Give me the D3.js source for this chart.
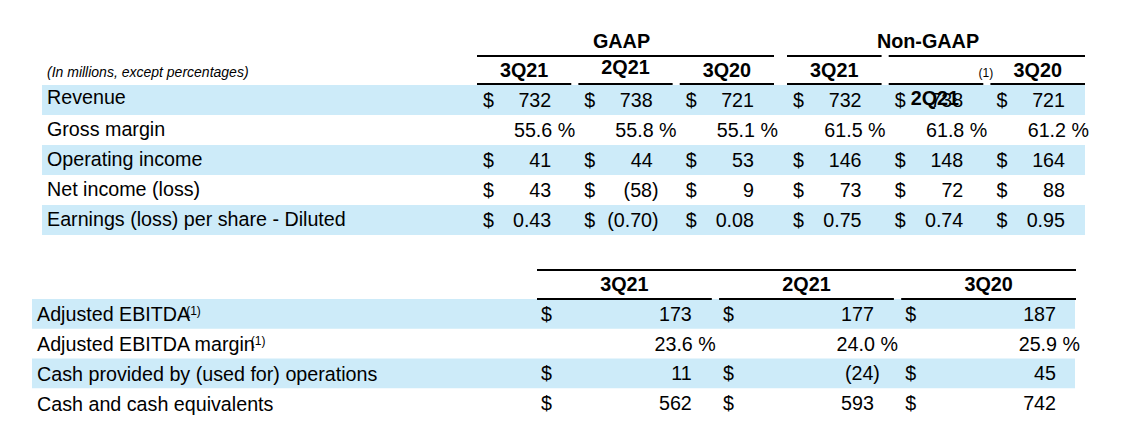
<!DOCTYPE html>
<html><head><meta charset="utf-8">
<script src="https://cdn.jsdelivr.net/npm/d3@7"></script>
<style>
html,body{margin:0;padding:0;background:#fff;}
svg text{font-family:"Liberation Sans",Arial,sans-serif;fill:#000;}
</style></head>
<body><svg id="c" width="1134" height="445"></svg>
<script>
// ---- data ----
const groups = ["GAAP", "Non-GAAP"];
const periods = ["3Q21", "2Q21", "3Q20"];
const topRows = ["Revenue", "Gross margin", "Operating income", "Net income (loss)", "Earnings (loss) per share - Diluted"];
const topFormats = ["usd0", "pct", "usd0", "usd0", "usd2"];
const gaapRevenue = [732, 738, 721];
const gaapGrossMargin = [55.6, 55.8, 55.1];
const gaapOperatingIncome = [41, 44, 53];
const gaapNetIncome = [43, -58, 9];
const gaapEps = [0.43, -0.70, 0.08];
const nonGaapRevenue = [732, 738, 721];
const nonGaapGrossMargin = [61.5, 61.8, 61.2];
const nonGaapOperatingIncome = [146, 148, 164];
const nonGaapNetIncome = [73, 72, 88];
const nonGaapEps = [0.75, 0.74, 0.95];
const bottomRows = ["Adjusted EBITDA", "Adjusted EBITDA margin", "Cash provided by (used for) operations", "Cash and cash equivalents"];
const bottomNotes = ["(1)", "(1)", "", ""];
const bottomFormats = ["usd0", "pct", "usd0", "usd0"];
const adjustedEbitda = [173, 177, 187];
const adjustedEbitdaMargin = [23.6, 24.0, 25.9];
const cashOperations = [11, -24, 45];
const cashEquivalents = [562, 593, 742];
const unitsNote = "(In millions, except percentages)";

const gaapValues = [gaapRevenue, gaapGrossMargin, gaapOperatingIncome, gaapNetIncome, gaapEps];
const nonGaapValues = [nonGaapRevenue, nonGaapGrossMargin, nonGaapOperatingIncome, nonGaapNetIncome, nonGaapEps];
const bottomValues = [adjustedEbitda, adjustedEbitdaMargin, cashOperations, cashEquivalents];

// ---- layout ----
const svg = d3.select("#c");
const BAND = "#cdebf9";
const FS = 19.7;
const HS = 19.8;

const yTop = d3.scaleBand().domain(topRows).range([85, 235]);
const yBot = d3.scaleBand().domain(bottomRows).range([299, 418]);
const xGroup = {
  "GAAP": d3.scaleBand().domain(periods).range([477, 774]).paddingInner(0.07),
  "Non-GAAP": d3.scaleBand().domain(periods).range([787, 1085]).paddingInner(0.07)
};
const groupTitleShift = { "GAAP": -4, "Non-GAAP": -8 };
const xBot = d3.scaleBand().domain(periods).range([537, 1076]).paddingInner(0.04);

function fmtNum(v, f) {
  const a = Math.abs(v);
  return f === "usd2" ? a.toFixed(2) : f === "pct" ? a.toFixed(1) : d3.format("d")(a);
}

function drawCell(g, x0, x1, yb, v, f, dollarOff) {
  if (f === "pct") {
    g.append("text").attr("x", x1 + 4).attr("y", yb).attr("text-anchor", "end")
      .attr("font-size", FS).text(fmtNum(v, f) + " %");
    return;
  }
  g.append("text").attr("x", x0 + dollarOff).attr("y", yb).attr("font-size", FS).text("$");
  const right = x1 - 20;
  if (v < 0) {
    g.append("text").attr("x", right + 6).attr("y", yb).attr("text-anchor", "end")
      .attr("font-size", FS).text("(" + fmtNum(v, f) + ")");
  } else {
    g.append("text").attr("x", right).attr("y", yb).attr("text-anchor", "end")
      .attr("font-size", FS).text(fmtNum(v, f));
  }
}

// ---- top table ----
const gTop = svg.append("g");
gTop.selectAll("rect.band").data(topRows.filter((d, i) => i % 2 === 0)).join("rect")
  .attr("x", 42).attr("width", 1085 - 42)
  .attr("y", d => yTop(d)).attr("height", yTop.bandwidth()).attr("fill", BAND);

gTop.append("text").attr("x", 47).attr("y", 77).attr("font-size", 14)
  .attr("font-style", "italic").text(unitsNote);

topRows.forEach((r, i) => {
  gTop.append("text").attr("x", 47).attr("y", yTop(r) + yTop.bandwidth() / 2 + 6 - (i === 0 ? 2 : 0))
    .attr("font-size", FS).text(r);
});

groups.forEach(gname => {
  const xs = xGroup[gname];
  const vals = gname === "GAAP" ? gaapValues : nonGaapValues;
  const [r0, r1] = xs.range();
  gTop.append("text").attr("x", (r0 + r1) / 2 + groupTitleShift[gname]).attr("y", 48).attr("text-anchor", "middle")
    .attr("font-size", HS).attr("font-weight", "bold").text(gname);
  if (gname === "GAAP") {
    gTop.append("line").attr("x1", r0).attr("x2", r1).attr("y1", 56).attr("y2", 56)
      .attr("stroke", "#000").attr("stroke-width", 2);
  } else {
    gTop.append("line").attr("x1", r0).attr("x2", xs(periods[0]) + xs.bandwidth()).attr("y1", 56).attr("y2", 56)
      .attr("stroke", "#000").attr("stroke-width", 2);
    gTop.append("line").attr("x1", xs(periods[1])).attr("x2", r1).attr("y1", 56).attr("y2", 56)
      .attr("stroke", "#000").attr("stroke-width", 2);
  }
  periods.forEach((p, j) => {
    const x0 = xs(p), x1 = x0 + xs.bandwidth();
    gTop.append("line").attr("x1", x0).attr("x2", x1).attr("y1", 84).attr("y2", 84)
      .attr("stroke", "#000").attr("stroke-width", 2);
    const shifted = gname === "Non-GAAP" && j === 1;
    if (!shifted) {
      gTop.append("text").attr("x", (x0 + x1) / 2).attr("y", (gname === "GAAP" && j === 1) ? 74 : 77)
        .attr("text-anchor", "middle").attr("font-size", HS).attr("font-weight", "bold").text(p);
    }
    topRows.forEach((r, i) => {
      const yb = yTop(r) + yTop.bandwidth() / 2 + 7;
      drawCell(gTop, x0, x1, yb, vals[i][j], topFormats[i], 6);
    });
    if (shifted) {
      gTop.append("text").attr("x", x1 + 10).attr("y", 77).attr("text-anchor", "end")
        .attr("font-size", 12).text("(1)");
      gTop.append("text").attr("x", x0 + 22).attr("y", 105)
        .attr("font-size", HS).attr("font-weight", "bold").text(p);
    }
  });
});

// ---- bottom table ----
const gBot = svg.append("g");
gBot.selectAll("rect.band").data(bottomRows.filter((d, i) => i % 2 === 0)).join("rect")
  .attr("x", 32).attr("width", 1075 - 32)
  .attr("y", d => yBot(d)).attr("height", yBot.bandwidth()).attr("fill", BAND);

const [b0, b1] = xBot.range();
gBot.append("line").attr("x1", b0).attr("x2", b1).attr("y1", 270).attr("y2", 270)
  .attr("stroke", "#000").attr("stroke-width", 2);

bottomRows.forEach((r, i) => {
  const t = gBot.append("text").attr("x", 37).attr("y", yBot(r) + yBot.bandwidth() / 2 + 7.5)
    .attr("font-size", FS).text(r);
  if (bottomNotes[i]) {
    const w = t.node().getComputedTextLength();
    gBot.append("text").attr("x", 37 + w - 4).attr("y", yBot(r) + yBot.bandwidth() / 2 + 1)
      .attr("font-size", 12).text(bottomNotes[i]);
  }
});

periods.forEach((p, j) => {
  const x0 = xBot(p), x1 = x0 + xBot.bandwidth();
  gBot.append("line").attr("x1", x0).attr("x2", x1).attr("y1", 299).attr("y2", 299)
    .attr("stroke", "#000").attr("stroke-width", 2);
  gBot.append("text").attr("x", (x0 + x1) / 2).attr("y", 291).attr("text-anchor", "middle")
    .attr("font-size", HS).attr("font-weight", "bold").text(p);
  bottomRows.forEach((r, i) => {
    const yb = yBot(r) + yBot.bandwidth() / 2 + 7;
    drawCell(gBot, x0, x1, yb, bottomValues[i][j], bottomFormats[i], 4);
  });
});
</script></body></html>
